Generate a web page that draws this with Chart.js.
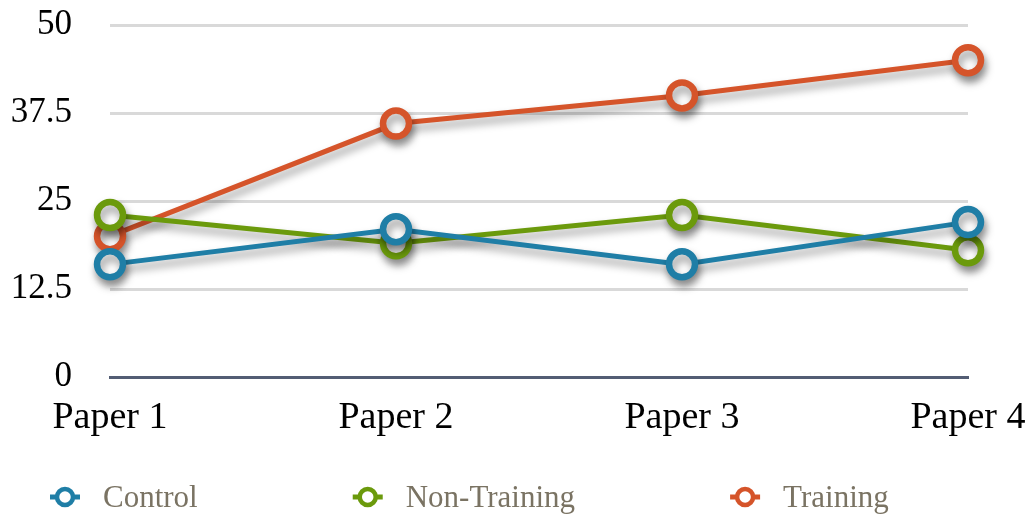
<!DOCTYPE html>
<html>
<head>
<meta charset="utf-8">
<script src="https://cdn.jsdelivr.net/npm/chart.js@4/dist/chart.umd.min.js"></script>
<style>
  html, body { margin: 0; padding: 0; background: #fff; }
  #wrap { width: 1031px; height: 516px; }
</style>
</head>
<body>
<div id="wrap"><canvas id="chart"></canvas></div>
<script>
// data
const papers = ['Paper 1', 'Paper 2', 'Paper 3', 'Paper 4']
const control = [16, 21, 16, 22]
const nonTraining = [23, 19, 23, 18]
const training = [20, 36, 40, 45]

const SERIF = '"Liberation Serif", "Times New Roman", serif'

function series(label, data, color) {
  return {
    label: label,
    data: data,
    borderColor: color,
    backgroundColor: color,
    borderWidth: 5,
    pointRadius: 13,
    pointHoverRadius: 13,
    pointBorderWidth: 6.5,
    pointBackgroundColor: '#fff',
    pointBorderColor: color,
    tension: 0,
    clip: false
  }
}

// soft drop shadow under lines and markers
const shadowPlugin = {
  id: 'shadow',
  beforeDatasetsDraw(chart) {
    const ctx = chart.ctx
    ctx.save()
    ctx.shadowColor = 'rgba(0, 0, 0, 0.4)'
    ctx.shadowBlur = 9
    ctx.shadowOffsetX = 2
    ctx.shadowOffsetY = 6
  },
  afterDatasetsDraw(chart) {
    chart.ctx.restore()
  }
}

// legend with line+marker glyphs, laid out like the reference
const legendPlugin = {
  id: 'lineLegend',
  afterDraw(chart) {
    const ctx = chart.ctx
    const y = 497
    let x = 50
    ctx.save()
    ctx.font = '31px ' + SERIF
    ctx.textBaseline = 'middle'
    ctx.textAlign = 'left'
    chart.data.datasets.forEach(ds => {
      ctx.strokeStyle = ds.borderColor
      ctx.lineWidth = 5
      ctx.beginPath()
      ctx.moveTo(x, y)
      ctx.lineTo(x + 30, y)
      ctx.stroke()
      ctx.lineWidth = 4.5
      ctx.beginPath()
      ctx.arc(x + 15, y, 8, 0, Math.PI * 2)
      ctx.fillStyle = '#fff'
      ctx.fill()
      ctx.stroke()
      ctx.fillStyle = '#7a7363'
      ctx.fillText(ds.label, x + 53, y + 2)
      x += 53 + ctx.measureText(ds.label).width + 155
    })
    ctx.restore()
  }
}

new Chart(document.getElementById('chart'), {
  type: 'line',
  data: {
    labels: papers,
    datasets: [
      series('Control', control, '#1f7ea6'),
      series('Non-Training', nonTraining, '#6b9a0c'),
      series('Training', training, '#d5542a')
    ]
  },
  options: {
    responsive: true,
    maintainAspectRatio: false,
    animation: false,
    layout: { padding: { top: 25, right: 63, bottom: 77, left: 0 } },
    plugins: {
      legend: { display: false },
      tooltip: { enabled: false }
    },
    scales: {
      x: {
        offset: false,
        afterFit(scale) {
          scale.height = 62
          scale.paddingLeft = 0
          scale.paddingRight = 0
        },
        grid: { display: false, drawTicks: false },
        border: { display: true, color: '#535d74', width: 3 },
        ticks: { color: '#000', padding: 18, maxRotation: 0, font: { family: SERIF, size: 38 } }
      },
      y: {
        min: 0,
        max: 50,
        afterFit(scale) {
          scale.width = 110
          scale.paddingTop = 0
          scale.paddingBottom = 0
        },
        grid: { color: '#d9d9d9', lineWidth: 3, drawTicks: false },
        border: { display: false },
        ticks: {
          stepSize: 12.5,
          color: '#000',
          padding: 38,
          font: { family: SERIF, size: 35 }
        }
      }
    }
  },
  plugins: [shadowPlugin, legendPlugin]
})
</script>
</body>
</html>
